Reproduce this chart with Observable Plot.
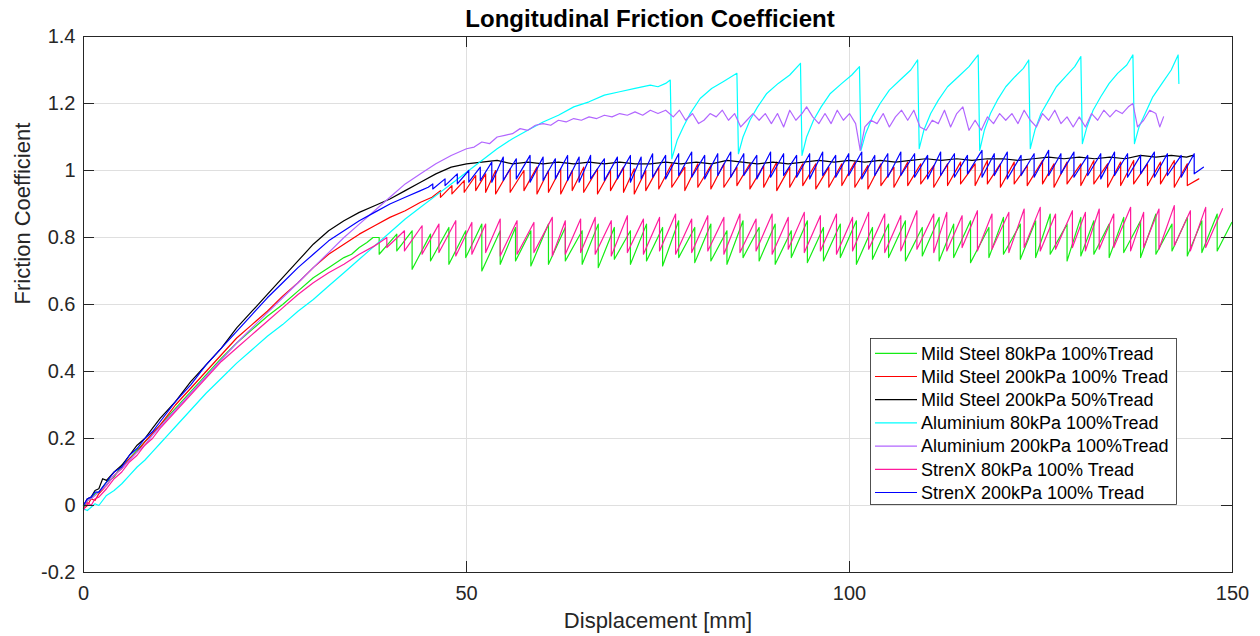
<!DOCTYPE html>
<html>
<head>
<meta charset="utf-8">
<script src="https://cdn.jsdelivr.net/npm/d3@7"></script>
<script src="https://cdn.jsdelivr.net/npm/@observablehq/plot@0.6"></script>
<style>
  html, body { margin: 0; padding: 0; background: #fff; }
  #chart { width: 1260px; height: 636px; }
</style>
</head>
<body>
<div id="chart"></div>
<script>
// ---------------- data ----------------
const seriesNames = [
  "Mild Steel 80kPa 100%Tread",
  "Mild Steel 200kPa 100% Tread",
  "Mild Steel 200kPa 50%Tread",
  "Aluminium 80kPa 100%Tread",
  "Aluminium 200kPa 100%Tread",
  "StrenX 80kPa 100% Tread",
  "StrenX 200kPa 100% Tread"
];
const seriesColors = ["#14ec14", "#ff0000", "#000000", "#00ffff", "#b266ff", "#ff1a9c", "#0000ff"];
const xTicks = [0, 50, 100, 150];
const yTicks = [-0.2, 0, 0.2, 0.4, 0.6, 0.8, 1, 1.2, 1.4];

// Mild Steel 80kPa 100%Tread (green)
const greenRiseX = [0, 0.5, 1, 1.5, 2, 3, 4, 5, 6, 7, 8, 9, 10, 12, 14, 16, 18, 20, 22, 24, 26, 28, 30, 32, 34, 35, 36, 37, 37.8];
const greenRiseY = [-0.01, 0.015, 0.02, 0.035, 0.04, 0.07, 0.085, 0.12, 0.14, 0.165, 0.19, 0.215, 0.24, 0.29, 0.34, 0.39, 0.44, 0.485, 0.525, 0.565, 0.60, 0.64, 0.68, 0.71, 0.74, 0.75, 0.77, 0.785, 0.80];
const greenDropX = [38.6, 40.9, 42.9, 45.3, 47.7, 49.9, 52.0, 54.4, 56.4, 58.4, 60.7, 62.9, 65.1, 67.2, 69.3, 71.4, 73.5, 75.6, 77.7, 79.8, 81.9, 84.0, 86.1, 88.2, 90.3, 92.4, 94.5, 96.6, 98.8, 100.9, 103.0, 105.1, 107.3, 109.5, 111.7, 113.6, 115.8, 118.2, 120.1, 122.3, 124.3, 126.2, 128.4, 130.2, 131.9, 133.9, 135.8, 138.0, 140.0, 142.1, 144.1, 146.0, 148.0];
const greenHigh = [0.80, 0.81, 0.82, 0.81, 0.83, 0.82, 0.84, 0.82, 0.83, 0.82, 0.84, 0.83, 0.82, 0.84, 0.83, 0.82, 0.84, 0.83, 0.85, 0.83, 0.84, 0.82, 0.85, 0.83, 0.84, 0.82, 0.85, 0.83, 0.84, 0.85, 0.83, 0.84, 0.85, 0.83, 0.86, 0.84, 0.85, 0.83, 0.86, 0.84, 0.85, 0.87, 0.84, 0.86, 0.85, 0.84, 0.86, 0.85, 0.87, 0.84, 0.86, 0.85, 0.87];
const greenLow = [0.75, 0.76, 0.705, 0.73, 0.72, 0.74, 0.70, 0.72, 0.73, 0.715, 0.72, 0.73, 0.72, 0.71, 0.735, 0.72, 0.73, 0.715, 0.74, 0.725, 0.73, 0.72, 0.74, 0.73, 0.72, 0.74, 0.725, 0.73, 0.74, 0.72, 0.735, 0.74, 0.73, 0.745, 0.73, 0.74, 0.725, 0.74, 0.75, 0.735, 0.74, 0.75, 0.73, 0.745, 0.75, 0.74, 0.755, 0.74, 0.75, 0.76, 0.745, 0.755, 0.76];
const greenEnd = [149.9, 0.845];

// Mild Steel 200kPa 100% Tread (red)
const redRiseX = [0, 0.5, 1, 1.5, 2, 3, 4, 5, 6, 7, 8, 9, 10, 12, 14, 16, 18, 20, 22, 24, 26, 28, 30, 32, 34, 36, 38, 40, 42, 44, 45.5];
const redRiseY = [-0.01, 0.0, 0.02, 0.015, 0.035, 0.06, 0.09, 0.11, 0.14, 0.16, 0.19, 0.215, 0.24, 0.30, 0.35, 0.40, 0.45, 0.50, 0.54, 0.58, 0.625, 0.665, 0.71, 0.75, 0.78, 0.81, 0.835, 0.86, 0.88, 0.905, 0.92];
const redDropX = [46.6, 48.1, 49.7, 51.2, 52.5, 53.8, 55.7, 57.5, 59.2, 60.7, 62.3, 63.8, 65.3, 67.1, 68.8, 70.5, 71.9, 73.4, 75.1, 76.8, 78.5, 80.2, 81.9, 83.6, 85.3, 87.0, 88.8, 90.5, 92.2, 93.9, 95.6, 97.3, 99.0, 100.7, 102.4, 104.1, 105.8, 107.6, 109.3, 111.0, 112.8, 114.5, 116.4, 118.0, 119.7, 121.5, 123.2, 125.2, 126.7, 128.4, 130.2, 131.9, 133.7, 135.4, 137.1, 138.9, 140.6, 142.4, 144.1];
const redHigh = [0.94, 0.955, 0.97, 0.985, 0.99, 1.0, 1.005, 1.0, 1.01, 1.0, 1.005, 1.0, 1.01, 1.005, 1.0, 1.01, 1.005, 1.0, 1.01, 1.02, 1.01, 1.02, 1.015, 1.02, 1.01, 1.02, 1.015, 1.025, 1.01, 1.02, 1.02, 1.01, 1.02, 1.025, 1.015, 1.02, 1.01, 1.025, 1.02, 1.015, 1.02, 1.025, 1.02, 1.03, 1.02, 1.025, 1.015, 1.03, 1.02, 1.025, 1.02, 1.03, 1.02, 1.025, 1.03, 1.02, 1.025, 1.03, 1.02];
const redLow = [0.92, 0.93, 0.935, 0.94, 0.935, 0.93, 0.935, 0.94, 0.93, 0.935, 0.93, 0.94, 0.935, 0.93, 0.94, 0.935, 0.93, 0.94, 0.945, 0.95, 0.94, 0.95, 0.945, 0.95, 0.955, 0.945, 0.95, 0.94, 0.95, 0.955, 0.945, 0.95, 0.955, 0.95, 0.945, 0.955, 0.95, 0.955, 0.96, 0.95, 0.955, 0.96, 0.955, 0.96, 0.95, 0.96, 0.955, 0.96, 0.95, 0.96, 0.955, 0.96, 0.95, 0.955, 0.96, 0.955, 0.96, 0.95, 0.955];
const redEnd = [145.6, 0.975];

// Mild Steel 200kPa 50%Tread (black)
const blackX = [0, 0.5, 1, 1.5, 2, 2.5, 3, 4, 5, 6, 7, 8, 9, 10, 12, 14, 16, 18, 20, 22, 24, 26, 28, 30, 32, 34, 36, 38, 40, 42, 44, 46, 48,
  50, 52, 54, 56, 58, 60, 62, 64, 66, 68, 70, 72, 74, 76, 78, 80, 82, 84, 86, 88, 90, 92, 94, 96, 98, 100, 102, 104, 106, 108, 110, 112, 114, 116, 118, 120, 122, 124, 126, 128, 130, 132, 134, 136, 138, 140, 142, 144, 144.8];
const blackY = [0, 0.02, 0.025, 0.045, 0.05, 0.08, 0.075, 0.10, 0.12, 0.15, 0.18, 0.20, 0.23, 0.26, 0.31, 0.37, 0.42, 0.47, 0.53, 0.58, 0.63, 0.68, 0.73, 0.78, 0.82, 0.85, 0.875, 0.895, 0.915, 0.94, 0.965, 0.99, 1.01,
  1.02, 1.025, 1.03, 1.02, 1.025, 1.02, 1.025, 1.02, 1.025, 1.02, 1.025, 1.02, 1.02, 1.025, 1.02, 1.025, 1.02, 1.03, 1.025, 1.02, 1.025, 1.02, 1.025, 1.03, 1.025, 1.03, 1.025, 1.03, 1.025, 1.03, 1.035, 1.03, 1.035, 1.03, 1.035, 1.035, 1.03, 1.035, 1.04, 1.035, 1.04, 1.035, 1.04, 1.035, 1.045, 1.04, 1.045, 1.04, 1.045];

// Aluminium 80kPa 100%Tread (cyan)
const cyanX = [0, 0.5, 1, 1.5, 2, 3, 4, 5, 6, 7, 8, 9, 10, 11, 12, 14, 16, 18, 20, 22, 24, 26, 28, 30, 32, 34, 36, 38, 40, 42, 44, 46, 48, 50, 52, 54, 56, 58, 60, 62, 64, 66, 68, 70, 72, 74, 75, 76, 76.6];
const cyanY = [-0.01, -0.015, -0.005, 0.005, 0.0, 0.03, 0.045, 0.065, 0.09, 0.115, 0.135, 0.16, 0.185, 0.21, 0.235, 0.285, 0.335, 0.38, 0.425, 0.465, 0.505, 0.54, 0.58, 0.615, 0.655, 0.695, 0.735, 0.775, 0.815, 0.855, 0.89, 0.925, 0.96, 0.995, 1.03, 1.065, 1.095, 1.12, 1.145, 1.165, 1.19, 1.205, 1.225, 1.235, 1.245, 1.255, 1.25, 1.26, 1.27];
const cyanToothX = [76.8, 77.5, 78.3, 79.2, 80.5, 82, 83.5, 85.3,
  85.5, 86.1, 87, 88, 89.2, 90.7, 92.2, 93.6,
  93.8, 94.4, 95.3, 96.3, 97.5, 99, 100.3, 101.3,
  101.5, 102.1, 103, 104, 105.2, 106.6, 108, 108.9,
  109.1, 109.7, 110.6, 111.6, 112.8, 114.2, 115.6, 116.8,
  117.0, 117.6, 118.4, 119.3, 120.4, 121.6, 122.7, 123.4,
  123.6, 124.2, 125, 126, 127, 128.2, 129.4, 130.2,
  130.4, 131, 131.8, 132.8, 133.9, 135, 136.2, 137.0,
  137.2, 137.8, 138.6, 139.6, 140.8, 142, 142.9, 143.0];
const cyanToothY = [1.035, 1.09, 1.13, 1.17, 1.215, 1.245, 1.265, 1.29,
  1.05, 1.10, 1.15, 1.19, 1.23, 1.26, 1.285, 1.32,
  1.045, 1.10, 1.15, 1.19, 1.23, 1.26, 1.285, 1.31,
  1.06, 1.11, 1.16, 1.20, 1.24, 1.27, 1.30, 1.33,
  1.065, 1.12, 1.17, 1.21, 1.25, 1.28, 1.31, 1.345,
  1.06, 1.12, 1.17, 1.21, 1.25, 1.28, 1.305, 1.33,
  1.065, 1.12, 1.17, 1.21, 1.25, 1.28, 1.31, 1.34,
  1.08, 1.13, 1.18, 1.22, 1.26, 1.29, 1.315, 1.345,
  1.08, 1.13, 1.17, 1.22, 1.26, 1.30, 1.345, 1.26];

// Aluminium 200kPa 100%Tread (purple)
const purpleRiseX = [0, 0.5, 1, 1.5, 2, 3, 4, 5, 6, 7, 8, 9, 10, 12, 14, 16, 18, 20, 22, 24, 26, 28, 30, 32, 34, 36, 38, 40, 42, 44, 46, 48, 50,
  51, 52, 53, 54, 55, 56, 57, 58, 59, 60, 61, 62, 63, 64, 65, 66, 67, 68, 69, 70, 71, 72, 73, 74, 75, 76];
const purpleRiseY = [0, 0.015, 0.02, 0.03, 0.04, 0.06, 0.09, 0.11, 0.135, 0.16, 0.18, 0.21, 0.235, 0.285, 0.335, 0.385, 0.435, 0.485, 0.53, 0.575, 0.62, 0.665, 0.71, 0.755, 0.80, 0.84, 0.88, 0.92, 0.96, 0.99, 1.02, 1.045, 1.065,
  1.07, 1.085, 1.08, 1.10, 1.105, 1.11, 1.125, 1.12, 1.135, 1.14, 1.135, 1.15, 1.145, 1.155, 1.15, 1.16, 1.155, 1.165, 1.16, 1.17, 1.165, 1.175, 1.165, 1.18, 1.17, 1.18];
const purpleTailX = [77, 77.8, 78.6, 79.5, 80.3, 81, 81.8, 82.6, 83.4, 84.2, 85, 85.8, 86.6, 87.4, 88.2, 89, 89.8, 90.6, 91.4, 92.2, 93, 93.8, 94.4, 95.2, 96, 96.8, 97.6, 98.4, 99.2, 100, 100.8, 101.4, 102, 102.8, 103.6, 104.4, 105.2, 106, 106.8, 107.6, 108.4, 109.2, 110, 110.8, 111.6, 112.4, 113.2, 114, 114.8, 115.6, 116.4, 117.2, 118, 118.8, 119.6, 120.4, 121.2, 122, 122.8, 123.6, 124.4, 125.2, 126, 126.8, 127.6, 128.4, 129.2, 130, 130.8, 131.6, 132.4, 133.2, 134, 134.8, 135.6, 136.4, 137, 137.6, 138.4, 139.2, 140, 140.5, 141];
const purpleTailY = [1.16, 1.18, 1.15, 1.17, 1.14, 1.15, 1.17, 1.16, 1.18, 1.15, 1.17, 1.13, 1.15, 1.17, 1.15, 1.17, 1.14, 1.17, 1.13, 1.18, 1.15, 1.17, 1.19, 1.16, 1.14, 1.17, 1.14, 1.18, 1.15, 1.17, 1.14, 1.06, 1.13, 1.15, 1.14, 1.17, 1.13, 1.16, 1.18, 1.15, 1.18, 1.13, 1.12, 1.15, 1.14, 1.18, 1.13, 1.17, 1.19, 1.12, 1.15, 1.12, 1.16, 1.14, 1.17, 1.15, 1.17, 1.14, 1.18, 1.15, 1.13, 1.17, 1.15, 1.18, 1.14, 1.16, 1.13, 1.16, 1.13, 1.17, 1.15, 1.18, 1.16, 1.18, 1.17, 1.19, 1.2, 1.13, 1.15, 1.18, 1.17, 1.13, 1.16];

// StrenX 80kPa 100% Tread (pink)
const pinkRiseX = [0, 0.5, 1, 1.5, 2, 3, 4, 5, 6, 7, 8, 9, 10, 12, 14, 16, 18, 20, 22, 24, 26, 28, 30, 32, 34, 36, 38, 39];
const pinkRiseY = [-0.015, 0.01, 0.0, 0.02, 0.025, 0.05, 0.08, 0.1, 0.13, 0.15, 0.18, 0.2, 0.23, 0.28, 0.33, 0.38, 0.43, 0.47, 0.51, 0.55, 0.59, 0.63, 0.665, 0.695, 0.72, 0.75, 0.775, 0.79];
const pinkDropX = [39.6, 41.9, 44.2, 46.4, 48.6, 50.7, 52.5, 54.4, 56.6, 58.8, 61.2, 62.9, 64.9, 66.8, 68.9, 71.0, 73.1, 75.2, 77.3, 79.4, 81.5, 83.6, 85.7, 87.8, 89.9, 92.0, 94.1, 96.2, 98.3, 100.4, 102.5, 104.6, 106.7, 108.8, 111.0, 112.7, 114.7, 116.7, 118.6, 120.8, 122.8, 124.9, 126.9, 129.1, 130.8, 132.6, 134.5, 136.7, 138.4, 140.4, 142.4, 144.5, 146.5];
const pinkHigh = [0.80, 0.82, 0.835, 0.84, 0.85, 0.845, 0.84, 0.855, 0.85, 0.845, 0.86, 0.85, 0.855, 0.86, 0.85, 0.865, 0.855, 0.86, 0.87, 0.855, 0.865, 0.86, 0.87, 0.855, 0.87, 0.86, 0.875, 0.865, 0.87, 0.86, 0.875, 0.87, 0.865, 0.88, 0.87, 0.875, 0.865, 0.88, 0.87, 0.875, 0.885, 0.89, 0.87, 0.88, 0.875, 0.885, 0.87, 0.89, 0.875, 0.885, 0.895, 0.88, 0.89];
const pinkLow = [0.77, 0.76, 0.75, 0.755, 0.745, 0.75, 0.755, 0.745, 0.75, 0.755, 0.745, 0.75, 0.755, 0.75, 0.745, 0.755, 0.75, 0.76, 0.75, 0.755, 0.76, 0.75, 0.755, 0.76, 0.75, 0.765, 0.755, 0.76, 0.75, 0.76, 0.765, 0.755, 0.76, 0.765, 0.755, 0.76, 0.77, 0.76, 0.765, 0.755, 0.77, 0.76, 0.765, 0.77, 0.76, 0.765, 0.77, 0.76, 0.77, 0.765, 0.775, 0.76, 0.77];
const pinkEnd = [148.7, 0.886];

// StrenX 200kPa 100% Tread (blue)
const blueRiseX = [0, 0.5, 1, 1.5, 2, 3, 4, 5, 6, 7, 8, 9, 10, 12, 14, 16, 18, 20, 22, 24, 26, 28, 30, 32, 34, 36, 38, 40, 42, 44, 45];
const blueRiseY = [0, 0.02, 0.025, 0.04, 0.04, 0.07, 0.1, 0.115, 0.15, 0.17, 0.2, 0.22, 0.25, 0.31, 0.36, 0.42, 0.47, 0.52, 0.57, 0.62, 0.665, 0.71, 0.75, 0.79, 0.82, 0.85, 0.875, 0.90, 0.92, 0.94, 0.95];
const blueDropX = [45.6, 47.2, 48.8, 50.3, 51.8, 53.3, 54.8, 56.5, 58.3, 60.0, 61.6, 63.2, 64.7, 66.2, 68.0, 69.7, 71.4, 72.8, 74.3, 76.0, 77.7, 79.4, 81.1, 82.8, 84.5, 86.2, 87.9, 89.7, 91.4, 93.1, 94.8, 96.5, 98.2, 99.9, 101.6, 103.3, 105.0, 106.7, 108.5, 110.2, 111.9, 113.7, 115.4, 117.3, 118.9, 120.6, 122.4, 124.1, 126.0, 127.6, 129.3, 131.1, 132.8, 134.6, 136.3, 138.0, 139.8, 141.5, 143.3, 145.0];
const blueHigh = [0.96, 0.975, 0.99, 1.0, 1.01, 1.025, 1.04, 1.035, 1.045, 1.04, 1.035, 1.045, 1.04, 1.045, 1.035, 1.04, 1.045, 1.04, 1.05, 1.045, 1.05, 1.055, 1.045, 1.05, 1.055, 1.05, 1.045, 1.055, 1.05, 1.045, 1.05, 1.055, 1.045, 1.05, 1.055, 1.045, 1.05, 1.055, 1.05, 1.045, 1.055, 1.05, 1.045, 1.06, 1.05, 1.055, 1.045, 1.05, 1.06, 1.05, 1.055, 1.045, 1.05, 1.055, 1.05, 1.045, 1.055, 1.05, 1.045, 1.05];
const blueLow = [0.945, 0.955, 0.96, 0.965, 0.97, 0.965, 0.97, 0.975, 0.965, 0.97, 0.975, 0.97, 0.965, 0.975, 0.97, 0.975, 0.965, 0.975, 0.98, 0.975, 0.985, 0.98, 0.975, 0.985, 0.98, 0.985, 0.975, 0.98, 0.985, 0.98, 0.975, 0.985, 0.98, 0.985, 0.975, 0.985, 0.98, 0.985, 0.98, 0.975, 0.985, 0.98, 0.99, 0.98, 0.985, 0.975, 0.985, 0.98, 0.985, 0.99, 0.98, 0.985, 0.975, 0.985, 0.98, 0.99, 0.98, 0.985, 0.98, 0.99];
const blueEnd = [146.2, 1.01];

// ---------------- table building ----------------
function check(name, ...arrs) {
  const n = arrs[0].length;
  if (arrs.some(a => a.length !== n)) throw new Error(name + " length mismatch: " + arrs.map(a => a.length).join(","));
}
check("green rise", greenRiseX, greenRiseY); check("green teeth", greenDropX, greenHigh, greenLow);
check("red rise", redRiseX, redRiseY); check("red teeth", redDropX, redHigh, redLow);
check("black", blackX, blackY);
check("cyan", cyanX, cyanY); check("cyan teeth", cyanToothX, cyanToothY);
check("purple rise", purpleRiseX, purpleRiseY); check("purple tail", purpleTailX, purpleTailY);
check("pink rise", pinkRiseX, pinkRiseY); check("pink teeth", pinkDropX, pinkHigh, pinkLow);
check("blue rise", blueRiseX, blueRiseY); check("blue teeth", blueDropX, blueHigh, blueLow);

const rows = [];
function addPoints(series, xs, ys) { xs.forEach((x, i) => rows.push({series, x, y: ys[i]})); }
function addTeeth(series, dropX, high, low) {
  dropX.forEach((x, i) => { rows.push({series, x, y: high[i]}); rows.push({series, x, y: low[i]}); });
}
addPoints(seriesNames[0], greenRiseX, greenRiseY); addTeeth(seriesNames[0], greenDropX, greenHigh, greenLow); addPoints(seriesNames[0], [greenEnd[0]], [greenEnd[1]]);
addPoints(seriesNames[1], redRiseX, redRiseY); addTeeth(seriesNames[1], redDropX, redHigh, redLow); addPoints(seriesNames[1], [redEnd[0]], [redEnd[1]]);
addPoints(seriesNames[2], blackX, blackY);
addPoints(seriesNames[3], cyanX, cyanY); addPoints(seriesNames[3], cyanToothX, cyanToothY);
addPoints(seriesNames[4], purpleRiseX, purpleRiseY); addPoints(seriesNames[4], purpleTailX, purpleTailY);
addPoints(seriesNames[5], pinkRiseX, pinkRiseY); addTeeth(seriesNames[5], pinkDropX, pinkHigh, pinkLow); addPoints(seriesNames[5], [pinkEnd[0]], [pinkEnd[1]]);
addPoints(seriesNames[6], blueRiseX, blueRiseY); addTeeth(seriesNames[6], blueDropX, blueHigh, blueLow); addPoints(seriesNames[6], [blueEnd[0]], [blueEnd[1]]);

// ---------------- chart ----------------
const FONT = "'Liberation Sans', Arial, Helvetica, sans-serif";
const fmt = d => String(d);
const axisColor = "#262626";
const W = 1260, H = 636, ML = 83, MR = 28, MT = 36, MB = 64;
const TICK = 11;
const frameW = W - ML - MR, frameH = H - MT - MB;

const chart = Plot.plot({
  width: W,
  height: H,
  marginLeft: ML,
  marginRight: MR,
  marginTop: MT,
  marginBottom: MB,
  style: {fontFamily: FONT, fontSize: "20px", color: axisColor, background: "#ffffff", overflow: "visible"},
  x: {domain: [0, 150]},
  y: {domain: [-0.2, 1.4]},
  color: {domain: seriesNames, range: seriesColors},
  marks: [
    Plot.gridX(xTicks, {stroke: "#dfdfdf", strokeOpacity: 1}),
    Plot.gridY(yTicks, {stroke: "#dfdfdf", strokeOpacity: 1}),
    Plot.line(rows, {x: "x", y: "y", z: "series", stroke: "series", strokeWidth: 1.2, curve: "linear"}),
    // inward tick marks on all four sides (MATLAB box style)
    Plot.ruleY(yTicks, {stroke: axisColor, insetRight: frameW - TICK}),
    Plot.ruleY(yTicks, {stroke: axisColor, insetLeft: frameW - TICK}),
    Plot.ruleX(xTicks, {stroke: axisColor, insetTop: frameH - TICK}),
    Plot.ruleX(xTicks, {stroke: axisColor, insetBottom: frameH - TICK}),
    Plot.frame({stroke: axisColor, strokeWidth: 1}),
    // tick labels
    Plot.axisX(xTicks, {anchor: "bottom", tickSize: 0, tickPadding: 13, tickFormat: fmt, label: null, fontSize: 20}),
    Plot.axisY(yTicks, {anchor: "left", tickSize: 0, tickPadding: 8, tickFormat: fmt, label: null, fontSize: 20}),
    // title and axis titles
    Plot.text(["Longitudinal Friction Coefficient"], {frameAnchor: "top", dy: -27, dx: -8, fontWeight: "bold", fontSize: 24, fill: "#000000"}),
    Plot.text(["Displacement [mm]"], {frameAnchor: "bottom", dy: 55, fontSize: 22, fill: axisColor}),
    Plot.text(["Friction Coefficient"], {frameAnchor: "left", dx: -61, rotate: -90, fontSize: 22, fill: axisColor})
  ]
});

// legend (MATLAB-style box, inside the axes)
const svg = d3.select(chart);
const lg = svg.append("g").attr("font-family", FONT).attr("font-size", 18).attr("text-anchor", "start");
lg.append("rect")
  .attr("x", 870.5).attr("y", 338.5).attr("width", 306).attr("height", 166)
  .attr("fill", "#ffffff").attr("stroke", axisColor).attr("stroke-width", 0.8);
seriesNames.forEach((name, i) => {
  const yy = 353.3 + i * 23.2;
  lg.append("line").attr("x1", 875).attr("x2", 917).attr("y1", yy).attr("y2", yy)
    .attr("stroke", seriesColors[i]).attr("stroke-width", 1.2);
  lg.append("text").attr("x", 921).attr("y", yy).attr("dy", "0.35em")
    .attr("text-anchor", "start").attr("fill", "#000000").text(name);
});

document.getElementById("chart").appendChild(chart);
</script>
</body>
</html>
